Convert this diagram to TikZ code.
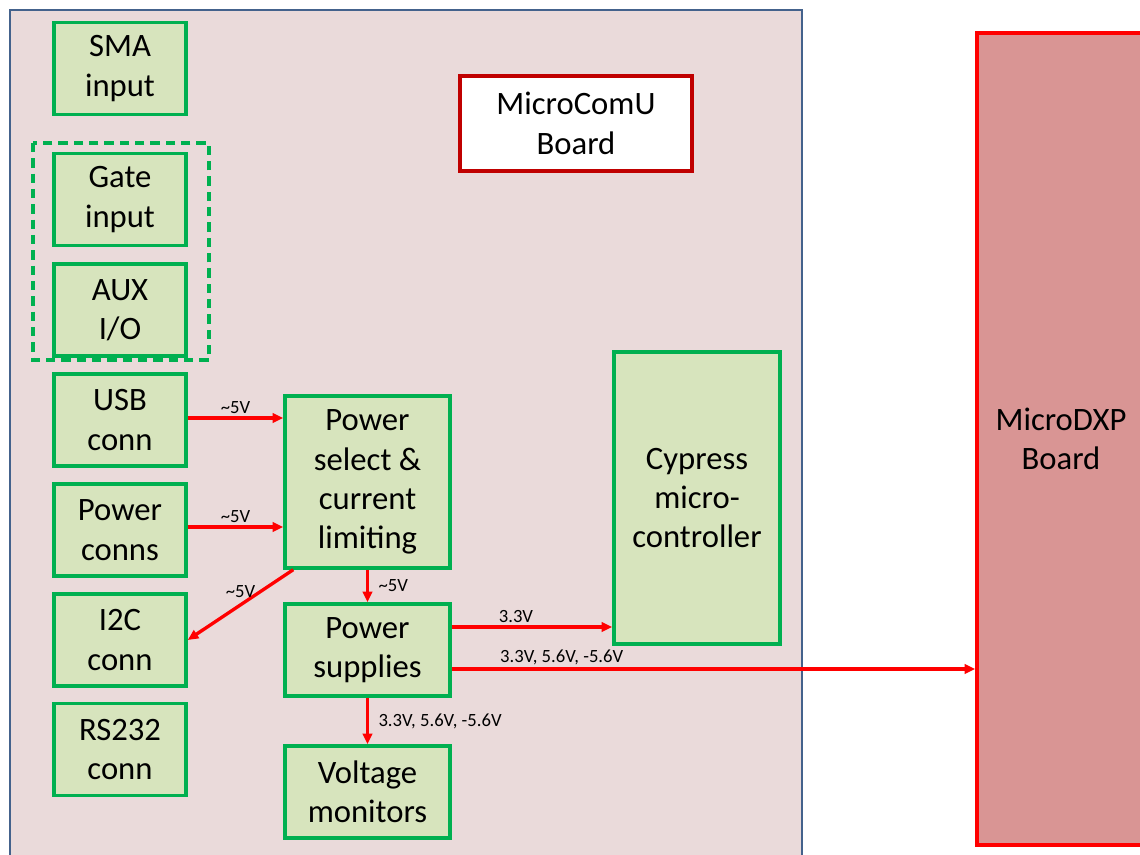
\documentclass[tikz,border=0pt]{standalone}
\usepackage{fontspec}
\setmainfont{Carlito}
\usetikzlibrary{arrows.meta}
\definecolor{boardpink}{RGB}{234,218,218}
\definecolor{boardedge}{RGB}{68,98,140}
\definecolor{blockgreen}{RGB}{0,176,80}
\definecolor{blockfill}{RGB}{215,228,189}
\definecolor{dxpfill}{RGB}{217,149,148}
\definecolor{comuedge}{RGB}{192,0,0}
\tikzset{
  blockbox/.style = {draw=blockgreen,fill=blockfill,line width=2.6pt,align=center,inner sep=0pt,
                     font=\fontsize{24.5}{29.5}\selectfont,minimum width=99pt,minimum height=69pt},
  pwrarr/.style   = {-{Triangle[length=8pt,width=7pt]},red,line width=2.5pt},
  vlabel/.style   = {font=\fontsize{14}{16}\selectfont,black,inner sep=2pt}
}

\begin{document}
\begin{tikzpicture}[x=0.75pt,y=-0.75pt]
  \useasboundingbox (0,0) rectangle (1140,855);
  \draw[boardedge,fill=boardpink,line width=2pt] (10,10) rectangle (802,880);
  \draw[blockgreen,line width=2.4pt,dash pattern=on 7pt off 4.5pt] (33,143) rectangle (209,360);

  % left column of connectors
  \node[blockbox] (sma)     at (120,68.5)  {SMA\\input};
  \node[blockbox] (gate)    at (120,199.5) {Gate\\input};
  \node[blockbox] (aux)     at (120,310)   {AUX\\I/O};
  \node[blockbox] (usb)     at (120,420)   {USB\\conn};
  \node[blockbox] (pwrconn) at (120,530)   {Power\\conns};
  \node[blockbox] (itwoc)   at (120,640)   {I2C\\conn};
  \node[blockbox] (rs)      at (120,749.5) {RS232\\conn};

  \node[blockbox,minimum width=123.75pt,minimum height=129pt] (pwrsel) at (367.5,482)
        {Power\\select \&\\current\\limiting};
  \node[blockbox,minimum width=123.75pt] (pwrsup) at (367.5,650) {Power\\supplies};
  \node[blockbox,minimum width=123.75pt] (vmon)   at (367.5,792) {Voltage\\monitors};
  \node[blockbox,minimum width=124.5pt,minimum height=219pt] (cypress) at (697,498)
        {Cypress\\micro-\\controller};

  \node[blockbox,draw=comuedge,fill=white,line width=3.2pt,minimum width=174pt,minimum height=71.25pt]
        (comu) at (576,123.5) {MicroComU\\Board};
  \node[blockbox,draw=red,fill=dxpfill,minimum width=126pt,minimum height=609pt]
        (dxp) at (1061,439) {MicroDXP\\Board};

  \draw[pwrarr] (usb.east |- 0,418) -- (pwrsel.west |- 0,418)
        node[vlabel,midway,above] {\textasciitilde5V};
  \draw[pwrarr] (pwrconn.east |- 0,527) -- (pwrsel.west |- 0,527)
        node[vlabel,midway,above] {\textasciitilde5V};
  \draw[pwrarr] ([xshift=7.5pt]pwrsel.south west) -- (itwoc.east)
        node[vlabel,midway,above=2pt] {\textasciitilde5V};
  \draw[pwrarr] (pwrsel.south) -- (pwrsup.north)
        node[vlabel,midway,right=5pt] {\textasciitilde5V};
  \draw[pwrarr] (pwrsup.east |- 0,627) -- (cypress.west |- 0,627)
        node[vlabel,pos=0.4,above] {3.3V};
  \draw[pwrarr] (pwrsup.east |- 0,669) -- (dxp.west |- 0,669)
        node[vlabel,pos=0.21,above] {3.3V, 5.6V, -5.6V};
  \draw[pwrarr] (pwrsup.south) -- (vmon.north)
        node[vlabel,midway,right=5pt] {3.3V, 5.6V, -5.6V};
\end{tikzpicture}
\end{document}
